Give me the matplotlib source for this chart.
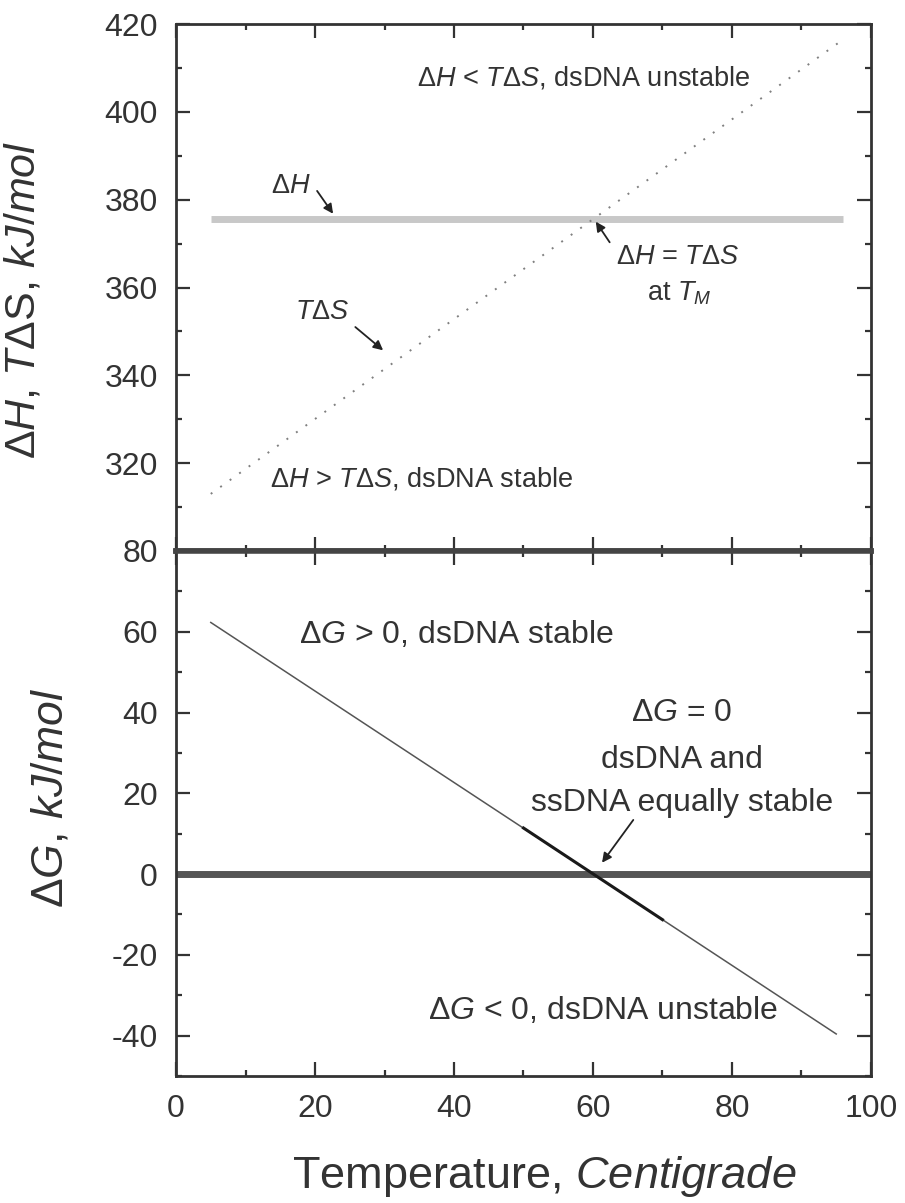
import matplotlib
matplotlib.use("Agg")
import matplotlib.pyplot as plt
from matplotlib.ticker import MultipleLocator, FixedLocator

plt.rcParams['font.family'] = ['Liberation Sans', 'DejaVu Sans']
plt.rcParams['mathtext.fontset'] = 'custom'
plt.rcParams['mathtext.rm'] = 'Liberation Sans'
plt.rcParams['mathtext.it'] = 'Liberation Sans:italic'
plt.rcParams['mathtext.bf'] = 'Liberation Sans:bold'
plt.rcParams['axes.unicode_minus'] = False

# values
temp_dh = [5, 96]
dh = [375.5, 375.5]
temp_tds = [5, 96]
tds = [313.0, 416.5]
temp_dg = [5, 95]
dg = [62.3, -39.6]
temp_dg_mid = [50, 70]
dg_mid = [11.4, -11.3]
top_yticks = [320, 340, 360, 380, 400, 420]

ink = '#333333'

fig = plt.figure(figsize=(9.05, 12.03), dpi=100)
ax1 = fig.add_axes([0.1945, 0.542, 0.7679, 0.438])
ax2 = fig.add_axes([0.1945, 0.1056, 0.7679, 0.4364])

# top panel: dH and T dS
ax1.plot(temp_dh, dh, color='#c8c8c8', lw=5, solid_capstyle='butt')
ax1.plot(temp_tds, tds, color='#808080', lw=1.4, linestyle=(0, (1, 5)))
ax1.set_xlim(0, 100)
ax1.set_ylim(300, 420)
ax1.yaxis.set_major_locator(FixedLocator(top_yticks))
ax1.yaxis.set_minor_locator(MultipleLocator(10))
ax1.set_ylabel(r'$\Delta\mathit{H}$, $\mathit{T}\Delta$S, $\mathit{kJ/mol}$', fontsize=31, color=ink)
ax1.yaxis.set_label_coords(-0.191, 0.476)

note = 19.5
ax1.text(58.6, 407.7, r'$\Delta\mathit{H}$ < $\mathit{T}\Delta\mathit{S}$, dsDNA unstable',
         fontsize=note, color=ink, ha='center', va='center')
ax1.text(35.3, 316.4, r'$\Delta\mathit{H}$ > $\mathit{T}\Delta\mathit{S}$, dsDNA stable',
         fontsize=note, color=ink, ha='center', va='center')
ax1.text(72.2, 367.0, r'$\Delta\mathit{H}$ = $\mathit{T}\Delta\mathit{S}$',
         fontsize=note, color=ink, ha='center', va='center')
ax1.text(72.4, 358.8, r'at $\mathit{T}_{\mathit{M}}$',
         fontsize=note, color=ink, ha='center', va='center')

arrow = dict(arrowstyle='-|>', color='#222222', lw=1.3, mutation_scale=14,
             shrinkA=0, shrinkB=0)
ax1.text(16.5, 383.2, r'$\Delta\mathit{H}$', fontsize=note, color=ink,
         ha='center', va='center')
ax1.annotate('', xy=(22.6, 376.8), xytext=(20.3, 382.0), arrowprops=arrow)
ax1.text(21.0, 354.4, r'$\mathit{T}\Delta\mathit{S}$', fontsize=note, color=ink,
         ha='center', va='center')
ax1.annotate('', xy=(29.8, 345.7), xytext=(25.8, 351.0), arrowprops=arrow)
ax1.annotate('', xy=(60.4, 375.0), xytext=(62.4, 370.3), arrowprops=arrow)

# bottom panel: dG
ax2.axhline(0, color='#555555', lw=5)
ax2.plot(temp_dg, dg, color='#555555', lw=1.1)
ax2.plot(temp_dg_mid, dg_mid, color='#1a1a1a', lw=2.2)
ax2.set_xlim(0, 100)
ax2.set_ylim(-50, 80)
ax2.yaxis.set_major_locator(MultipleLocator(20))
ax2.yaxis.set_minor_locator(MultipleLocator(10))
ax2.set_ylabel(r'$\Delta\mathit{G}$, $\mathit{kJ/mol}$', fontsize=32, color=ink)
ax2.yaxis.set_label_coords(-0.15, 0.53)
ax2.set_xlabel(r'Temperature, $\mathit{Centigrade}$', fontsize=32.5, color=ink)
ax2.xaxis.set_label_coords(0.53, -0.192)
ax2.xaxis.label.set_verticalalignment('center')

big = 23
ax2.text(40.3, 59.2, r'$\Delta\mathit{G}$ > 0, dsDNA stable', fontsize=big,
         color=ink, ha='center', va='center')
ax2.text(72.8, 39.9, r'$\Delta\mathit{G}$ = 0', fontsize=big, color=ink,
         ha='center', va='center')
ax2.text(72.8, 28.3, 'dsDNA and', fontsize=big, color=ink, ha='center', va='center')
ax2.text(72.8, 17.6, 'ssDNA equally stable', fontsize=big, color=ink,
         ha='center', va='center')
ax2.text(61.4, -33.9, r'$\Delta\mathit{G}$ < 0, dsDNA unstable', fontsize=big,
         color=ink, ha='center', va='center')
ax2.annotate('', xy=(61.3, 2.8), xytext=(65.8, 13.4), arrowprops=arrow)

for ax in (ax1, ax2):
    ax.xaxis.set_major_locator(MultipleLocator(20))
    ax.xaxis.set_minor_locator(MultipleLocator(10))
    ax.tick_params(which='both', direction='in', top=True, right=True,
                   color=ink, width=1.6, labelcolor=ink, labelsize=23)
    ax.tick_params(which='major', length=10, pad=13)
    ax.tick_params(which='minor', length=4.5)
    for s in ax.spines.values():
        s.set_linewidth(2.0)
        s.set_color(ink)

ax1.tick_params(labelbottom=False)
ax1.spines['bottom'].set_linewidth(4)
ax1.spines['bottom'].set_color('#444444')
ax2.spines['top'].set_linewidth(4)
ax2.spines['top'].set_color('#444444')

fig.savefig('out.png', dpi=100)
